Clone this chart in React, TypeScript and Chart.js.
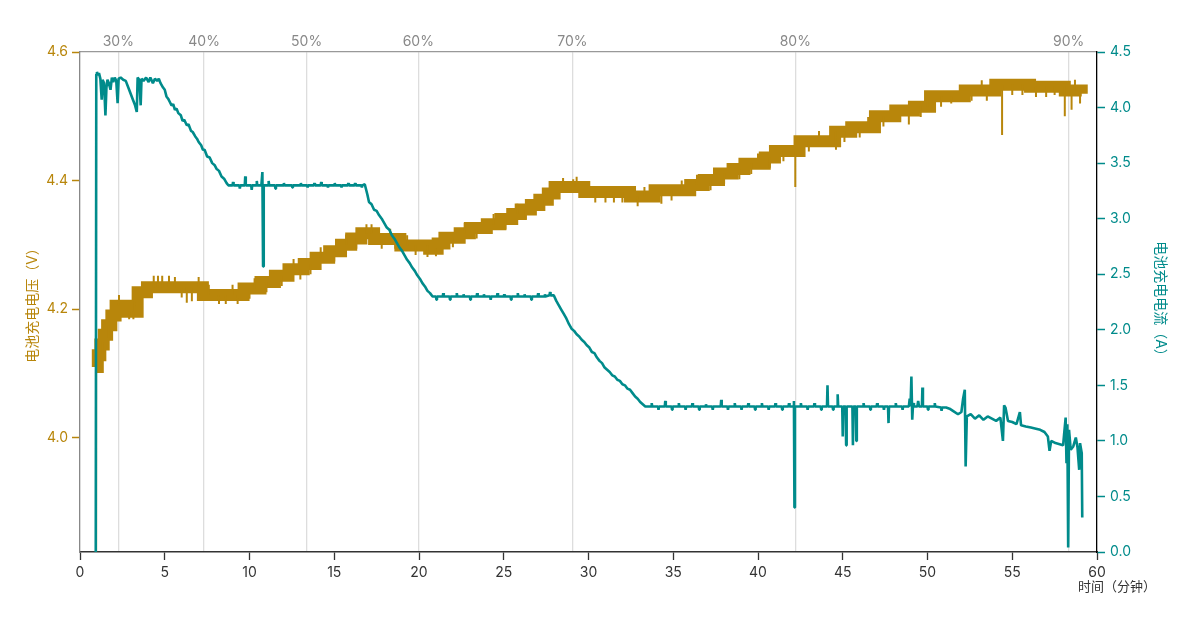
import React, { useEffect, useRef } from "react";
import { Chart, registerables } from "chart.js";

Chart.register(...registerables);

const GOLD = "#B8860B";
const TEAL = "#008B8B";
const FONT = "Inter, 'Noto Sans CJK SC', sans-serif";

const percentLabels = ["30%", "40%", "50%", "60%", "70%", "80%", "90%"];
const percentTimes = [2.26, 7.32, 13.37, 19.96, 29.05, 42.2, 58.33];

const voltTicks = [4.0, 4.2, 4.4, 4.6];

// Current (A): [time (min), current]
const currentSeries: [number, number][] = [
  [0.93, 0.0], [0.96, 4.3], [1.0, 4.32], [1.06, 4.29], [1.12, 4.31], [1.2, 4.26], [1.28, 4.07], [1.33, 4.25],
  [1.42, 4.22], [1.5, 3.93], [1.56, 4.18], [1.62, 4.25], [1.7, 4.22], [1.8, 4.16], [1.88, 4.27], [1.96, 4.23],
  [2.05, 4.27], [2.14, 4.24], [2.22, 4.04], [2.28, 4.26], [2.4, 4.27], [2.55, 4.25], [2.7, 4.24], [2.9, 4.16],
  [3.1, 4.08], [3.25, 4.02], [3.35, 3.96], [3.4, 4.27], [3.5, 4.25], [3.58, 4.02], [3.63, 4.26], [3.75, 4.24],
  [3.9, 4.27], [4.05, 4.23], [4.15, 4.27], [4.3, 4.22], [4.42, 4.26], [4.55, 4.24], [4.65, 4.26], [4.75, 4.22],
  [4.9, 4.18], [5.0, 4.16], [5.1, 4.1], [5.2, 4.08], [5.3, 4.05], [5.4, 4.02], [5.5, 4.03], [5.6, 3.98],
  [5.7, 3.99], [5.8, 3.95], [5.95, 3.93], [6.05, 3.88], [6.15, 3.89], [6.3, 3.84], [6.4, 3.85], [6.55, 3.79],
  [6.65, 3.78], [6.8, 3.74], [6.9, 3.72], [7.0, 3.69], [7.15, 3.66], [7.25, 3.62], [7.35, 3.62], [7.5, 3.56],
  [7.65, 3.55], [7.8, 3.5], [7.95, 3.48], [8.05, 3.45], [8.2, 3.43], [8.35, 3.38], [8.5, 3.36], [8.65, 3.32],
  [8.75, 3.3],
  [9.0, 3.3], [9.03, 3.33], [9.06, 3.3], [9.4, 3.3], [9.43, 3.27], [9.46, 3.3], [9.72, 3.3], [9.75, 3.38],
  [9.78, 3.3], [10.1, 3.3], [10.13, 3.26], [10.16, 3.3], [10.4, 3.3], [10.43, 3.34], [10.46, 3.3], [10.7, 3.3],
  [10.76, 3.42], [10.8, 2.57], [10.84, 3.3], [11.1, 3.3], [11.13, 3.34], [11.16, 3.3], [11.5, 3.3], [11.53, 3.27],
  [11.56, 3.3], [12.0, 3.3], [12.03, 3.32], [12.06, 3.3], [12.5, 3.3], [12.53, 3.28], [12.56, 3.3], [13.0, 3.3],
  [13.03, 3.32], [13.06, 3.3], [13.4, 3.3], [13.43, 3.28], [13.46, 3.3], [13.8, 3.3], [13.83, 3.32], [13.86, 3.3],
  [14.2, 3.3], [14.23, 3.33], [14.26, 3.3], [14.6, 3.3], [14.63, 3.28], [14.66, 3.3], [15.0, 3.3], [15.03, 3.32],
  [15.06, 3.3], [15.4, 3.3], [15.43, 3.28], [15.46, 3.3], [15.8, 3.3], [15.83, 3.32], [15.86, 3.3], [16.2, 3.3],
  [16.23, 3.32], [16.26, 3.3], [16.6, 3.3], [16.63, 3.28], [16.66, 3.3], [16.8, 3.31],
  [16.95, 3.22], [17.05, 3.15], [17.2, 3.13], [17.35, 3.08], [17.5, 3.07], [17.65, 3.03], [17.8, 3.0],
  [17.95, 2.96], [18.1, 2.92], [18.25, 2.9], [18.4, 2.85], [18.55, 2.82], [18.7, 2.78], [18.85, 2.74],
  [19.0, 2.71], [19.15, 2.67], [19.3, 2.63], [19.45, 2.6], [19.6, 2.56], [19.75, 2.53], [19.9, 2.49],
  [20.05, 2.46], [20.2, 2.42], [20.35, 2.39], [20.5, 2.35], [20.65, 2.33], [20.8, 2.3],
  [21.0, 2.3], [21.03, 2.27], [21.06, 2.3], [21.4, 2.3], [21.43, 2.33], [21.46, 2.3], [21.8, 2.3], [21.83, 2.27],
  [21.86, 2.3], [22.2, 2.3], [22.23, 2.33], [22.26, 2.3], [22.6, 2.3], [22.63, 2.32], [22.66, 2.3], [23.0, 2.3],
  [23.03, 2.27], [23.06, 2.3], [23.4, 2.3], [23.43, 2.33], [23.46, 2.3], [23.8, 2.3], [23.83, 2.32], [23.86, 2.3],
  [24.2, 2.3], [24.23, 2.27], [24.26, 2.3], [24.6, 2.3], [24.63, 2.33], [24.66, 2.3], [25.0, 2.3], [25.03, 2.32],
  [25.06, 2.3], [25.4, 2.3], [25.43, 2.27], [25.46, 2.3], [25.8, 2.3], [25.83, 2.33], [25.86, 2.3], [26.2, 2.3],
  [26.23, 2.32], [26.26, 2.3], [26.6, 2.3], [26.63, 2.27], [26.66, 2.3], [27.0, 2.3], [27.03, 2.33], [27.06, 2.3],
  [27.4, 2.3], [27.43, 2.32], [27.46, 2.3], [27.7, 2.31], [27.73, 2.34], [27.76, 2.31], [27.95, 2.31],
  [28.1, 2.26], [28.25, 2.22], [28.4, 2.18], [28.55, 2.14], [28.7, 2.1], [28.85, 2.05], [29.0, 2.01],
  [29.15, 1.99], [29.3, 1.96], [29.45, 1.94], [29.6, 1.91], [29.75, 1.89], [29.9, 1.86], [30.05, 1.84],
  [30.2, 1.8], [30.35, 1.79], [30.5, 1.75], [30.65, 1.72], [30.8, 1.7], [30.95, 1.66], [31.1, 1.64],
  [31.25, 1.62], [31.4, 1.59], [31.55, 1.58], [31.7, 1.55], [31.85, 1.54], [32.0, 1.51], [32.15, 1.5],
  [32.3, 1.47], [32.45, 1.46], [32.6, 1.43], [32.75, 1.4], [32.9, 1.38], [33.05, 1.35], [33.2, 1.33], [33.35, 1.31],
  [33.7, 1.31], [33.73, 1.34], [33.76, 1.31], [34.1, 1.31], [34.13, 1.28], [34.16, 1.31], [34.5, 1.31],
  [34.53, 1.36], [34.56, 1.31], [34.9, 1.31], [34.93, 1.28], [34.96, 1.31], [35.3, 1.31], [35.33, 1.34],
  [35.36, 1.31], [35.7, 1.31], [35.73, 1.28], [35.76, 1.31], [36.1, 1.31], [36.13, 1.34], [36.16, 1.31],
  [36.5, 1.31], [36.53, 1.28], [36.56, 1.31], [36.9, 1.31], [36.93, 1.33], [36.96, 1.31], [37.3, 1.31],
  [37.33, 1.28], [37.36, 1.31], [37.8, 1.31], [37.83, 1.37], [37.86, 1.31], [38.2, 1.31], [38.23, 1.28],
  [38.26, 1.31], [38.6, 1.31], [38.63, 1.34], [38.66, 1.31], [39.0, 1.31], [39.03, 1.28], [39.06, 1.31],
  [39.4, 1.31], [39.43, 1.34], [39.46, 1.31], [39.8, 1.31], [39.83, 1.28], [39.86, 1.31], [40.2, 1.31],
  [40.23, 1.34], [40.26, 1.31], [40.6, 1.31], [40.63, 1.28], [40.66, 1.31], [41.0, 1.31], [41.03, 1.34],
  [41.06, 1.31], [41.4, 1.31], [41.43, 1.28], [41.46, 1.31], [41.8, 1.31], [41.83, 1.34], [41.86, 1.31],
  [42.1, 1.31], [42.12, 1.36], [42.15, 0.4], [42.18, 1.31], [42.5, 1.31], [42.53, 1.34], [42.56, 1.31],
  [42.9, 1.31], [42.93, 1.28], [42.96, 1.31], [43.3, 1.31], [43.33, 1.34], [43.36, 1.31], [43.7, 1.31],
  [43.73, 1.28], [43.76, 1.31], [44.07, 1.31], [44.1, 1.5], [44.13, 1.31], [44.4, 1.31], [44.43, 1.28],
  [44.46, 1.31], [44.67, 1.31], [44.7, 1.42], [44.73, 1.31], [44.97, 1.31], [45.0, 1.04], [45.03, 1.31],
  [45.17, 1.31], [45.2, 0.96], [45.23, 1.31], [45.57, 1.31], [45.6, 0.96], [45.63, 1.31], [45.77, 1.31],
  [45.8, 1.0], [45.83, 1.31], [46.2, 1.31], [46.23, 1.34], [46.26, 1.31], [46.6, 1.31], [46.63, 1.28],
  [46.66, 1.31], [47.0, 1.31], [47.03, 1.34], [47.06, 1.31], [47.4, 1.31], [47.43, 1.28], [47.46, 1.31],
  [47.67, 1.31], [47.7, 1.16], [47.73, 1.31], [48.1, 1.31], [48.13, 1.34], [48.16, 1.31], [48.5, 1.31],
  [48.53, 1.28], [48.56, 1.31], [48.9, 1.31], [48.95, 1.38], [49.0, 1.31], [49.05, 1.58], [49.1, 1.19],
  [49.15, 1.34], [49.2, 1.31], [49.4, 1.31], [49.45, 1.36], [49.5, 1.31], [49.67, 1.31], [49.7, 1.48],
  [49.73, 1.31], [50.0, 1.31], [50.03, 1.28], [50.06, 1.31], [50.4, 1.31], [50.43, 1.34], [50.46, 1.31],
  [50.8, 1.3], [50.83, 1.27], [50.86, 1.3], [51.1, 1.3],
  [51.3, 1.29], [51.5, 1.27], [51.8, 1.24], [52.0, 1.26], [52.1, 1.38], [52.2, 1.46], [52.25, 0.77], [52.32, 1.22],
  [52.55, 1.24], [52.8, 1.2], [53.05, 1.23], [53.3, 1.19], [53.55, 1.22], [53.8, 1.2], [54.05, 1.18], [54.3, 1.21],
  [54.45, 1.0], [54.52, 1.32], [54.6, 1.3], [54.75, 1.18], [55.0, 1.17], [55.25, 1.15], [55.45, 1.26], [55.52, 1.14],
  [55.8, 1.13], [56.1, 1.12], [56.4, 1.11], [56.65, 1.1], [56.9, 1.08], [57.1, 1.04], [57.2, 0.91], [57.3, 1.0],
  [57.55, 0.98], [57.8, 0.97], [58.0, 0.96], [58.15, 1.21], [58.2, 0.8], [58.25, 1.15], [58.3, 0.04], [58.35, 1.1],
  [58.45, 0.92], [58.6, 0.95], [58.75, 1.03], [58.85, 0.94], [58.95, 0.74], [59.0, 0.98], [59.1, 0.89], [59.13, 0.31],
];

// Voltage (V), level starts of the quantised band
const voltageTime = [
  0.98, 1.05, 1.2, 1.4, 1.6, 1.85, 2.1, 2.7, 3.4, 3.95, 7.25, 9.65, 10.65, 11.5, 12.3, 13.2, 13.9, 14.7, 15.4,
  16.0, 16.6, 17.35, 18.9, 20.6, 21.1, 21.5, 22.4, 23.0, 24.0, 24.8, 25.5, 26.0, 26.6, 27.1, 27.6, 28.0, 29.75,
  32.45, 33.9, 36.0, 36.8, 37.7, 38.5, 39.2, 40.4, 41.0, 42.45, 44.55, 45.5, 46.9, 48.1, 49.2, 50.15, 52.2,
  54.0, 56.05, 58.1, 59.1,
];
const voltageValue = [
  4.11, 4.128, 4.145, 4.16, 4.175, 4.19, 4.205, 4.196, 4.226, 4.234, 4.222, 4.232, 4.242, 4.252, 4.262, 4.27,
  4.28, 4.29, 4.3, 4.31, 4.318, 4.309, 4.299, 4.294, 4.302, 4.311, 4.318, 4.326, 4.332, 4.34, 4.348, 4.355,
  4.362, 4.37, 4.38, 4.39, 4.382, 4.375, 4.385, 4.393, 4.401, 4.411, 4.418, 4.426, 4.436, 4.446, 4.461,
  4.476, 4.483, 4.5, 4.509, 4.515, 4.531, 4.54, 4.549, 4.546, 4.54, 4.535,
];

// thin voltage spikes: time, band level, spike tip
const spikeTime = [
  0.95, 1.3, 1.7, 2.3, 2.9, 3.15, 3.2, 4.35, 4.6, 4.85, 5.25, 5.6, 6.0, 6.3, 6.6, 7.0, 7.6, 8.2, 8.6, 9.0, 9.3,
  10.0, 10.3, 11.0, 11.9, 12.6, 13.0, 13.6, 14.2, 15.0, 15.7, 16.3, 16.9, 17.2, 17.8, 18.3, 18.6, 19.3, 19.8,
  20.5, 21.0, 22.0, 22.7, 23.4, 24.4, 25.1, 25.8, 26.3, 27.3, 28.5, 29.1, 29.3, 30.4, 31.0, 31.5, 32.0, 32.9,
  33.3, 34.3, 34.9, 35.5, 36.4, 37.2, 38.0, 38.9, 39.6, 40.0, 40.7, 41.5, 42.2, 43.0, 43.6, 44.6, 45.1, 46.0,
  46.5, 47.4, 48.9, 49.6, 50.0, 50.8, 51.4, 52.6, 53.2, 53.5, 54.4, 55.0, 55.6, 56.4, 57.0, 57.5, 58.1, 58.5,
  58.7, 59.0,
];
const spikeBase = [
  3.822, 4.15, 4.175, 4.205, 4.196, 4.196, 4.196, 4.234, 4.234, 4.234, 4.234, 4.234, 4.234, 4.234, 4.234, 4.234,
  4.222, 4.222, 4.222, 4.222, 4.222, 4.232, 4.232, 4.242, 4.252, 4.262, 4.262, 4.27, 4.28, 4.29, 4.3, 4.31,
  4.318, 4.318, 4.309, 4.309, 4.309, 4.299, 4.299, 4.299, 4.294, 4.311, 4.318, 4.326, 4.332, 4.34, 4.348,
  4.355, 4.37, 4.39, 4.39, 4.39, 4.382, 4.382, 4.382, 4.382, 4.375, 4.375, 4.385, 4.385, 4.385, 4.393, 4.401,
  4.411, 4.418, 4.426, 4.426, 4.436, 4.446, 4.446, 4.461, 4.461, 4.476, 4.476, 4.483, 4.483, 4.5, 4.509,
  4.515, 4.515, 4.531, 4.531, 4.54, 4.54, 4.54, 4.549, 4.549, 4.549, 4.546, 4.546, 4.546, 4.546, 4.54, 4.54,
  4.54,
];
const spikeTip = [
  4.11, 4.13, 4.155, 4.222, 4.184, 4.184, 4.212, 4.252, 4.252, 4.252, 4.252, 4.25, 4.218, 4.21, 4.212, 4.25,
  4.238, 4.208, 4.208, 4.238, 4.208, 4.216, 4.248, 4.226, 4.236, 4.278, 4.246, 4.254, 4.296, 4.274, 4.316, 4.294,
  4.332, 4.332, 4.294, 4.325, 4.294, 4.315, 4.284, 4.281, 4.282, 4.296, 4.334, 4.31, 4.348, 4.324, 4.364,
  4.339, 4.354, 4.404, 4.402, 4.406, 4.366, 4.366, 4.366, 4.366, 4.36, 4.39, 4.364, 4.369, 4.4, 4.409,
  4.385, 4.395, 4.402, 4.41, 4.442, 4.42, 4.43, 4.39, 4.445, 4.477, 4.448, 4.46, 4.467, 4.499, 4.484,
  4.487, 4.499, 4.527, 4.515, 4.52, 4.524, 4.556, 4.524, 4.471, 4.533, 4.533, 4.53, 4.53, 4.533, 4.5,
  4.51, 4.557, 4.52,
];

const xTitlePlugin = {
  id: "xTitle",
  afterDraw(chart: any) {
    const { ctx, chartArea } = chart;
    ctx.save();
    ctx.font = `13px ${FONT}`;
    ctx.fillStyle = "#333";
    ctx.textAlign = "center";
    ctx.textBaseline = "middle";
    ctx.fillText("时间（分钟）", chartArea.right + 20, chartArea.bottom + 35);
    ctx.restore();
  },
};

export default function App() {
  const ref = useRef<HTMLCanvasElement | null>(null);

  useEffect(() => {
    if (!ref.current) return;
    const currentData = currentSeries.map(([t, v]) => ({ x: t, y: v }));
    const voltageData = voltageTime.map((t, i) => ({ x: t, y: voltageValue[i] }));
    const spikeData: any[] = [];
    spikeTime.forEach((t, i) => {
      spikeData.push({ x: t, y: spikeBase[i] });
      spikeData.push({ x: t, y: spikeTip[i] });
      spikeData.push({ x: t, y: null });
    });

    const chart = new Chart(ref.current, {
      type: "line",
      data: {
        datasets: [
          {
            label: "电流",
            data: currentData,
            yAxisID: "y1",
            xAxisID: "x",
            borderColor: TEAL,
            borderWidth: 2.6,
            borderJoinStyle: "bevel",
            pointRadius: 0,
            tension: 0,
            order: 0,
          },
          {
            label: "电压",
            data: voltageData,
            yAxisID: "y",
            xAxisID: "x",
            borderColor: GOLD,
            borderWidth: 12,
            stepped: true,
            borderJoinStyle: "miter",
            borderCapStyle: "butt",
            pointRadius: 0,
            order: 2,
          },
          {
            label: "电压尖峰",
            data: spikeData,
            yAxisID: "y",
            xAxisID: "x",
            borderColor: GOLD,
            borderWidth: 2,
            pointRadius: 0,
            spanGaps: false,
            order: 1,
          },
        ],
      },
      options: {
        responsive: false,
        animation: false,
        events: [],
        layout: { padding: 0 },
        plugins: { legend: { display: false }, tooltip: { enabled: false } },
        scales: {
          x: {
            type: "linear",
            position: "bottom",
            min: 0,
            max: 60,
            ticks: { stepSize: 5, color: "#333", font: { size: 14, family: FONT }, padding: 4, maxRotation: 0 },
            grid: { drawOnChartArea: false, color: "#333", tickLength: 8, tickWidth: 1.3 },
            border: { color: "#333", width: 1.5 },
            afterFit: (s: any) => {
              s.height = 67;
            },
          },
          x2: {
            type: "linear",
            position: "top",
            min: 0,
            max: 60,
            afterBuildTicks: (s: any) => {
              s.ticks = percentTimes.map((v) => ({ value: v }));
            },
            ticks: {
              autoSkip: false,
              maxRotation: 0,
              color: "#888",
              font: { size: 14, family: FONT },
              padding: 2,
              callback: (_v: any, i: number) => percentLabels[i],
            },
            grid: { drawOnChartArea: true, drawTicks: false, color: "#dddddd", lineWidth: 1.3 },
            border: { color: "#999", width: 1.2 },
            afterFit: (s: any) => {
              s.height = 52;
            },
          },
          y: {
            type: "linear",
            position: "left",
            min: 3.822,
            max: 4.6,
            afterBuildTicks: (s: any) => {
              s.ticks = voltTicks.map((v) => ({ value: v }));
            },
            ticks: {
              color: GOLD,
              font: { size: 14, family: FONT },
              padding: 4,
              callback: (v: any) => Number(v).toFixed(1),
            },
            grid: { drawOnChartArea: false, color: GOLD, tickLength: 8, tickWidth: 1.5 },
            border: { color: "#888", width: 1.3 },
            title: {
              display: true,
              text: "电池充电电压（V）",
              color: GOLD,
              font: { size: 14, family: FONT },
              padding: { top: 24, bottom: 0 },
            },
            afterFit: (s: any) => {
              s.width = 80;
            },
          },
          y1: {
            type: "linear",
            position: "right",
            min: 0,
            max: 4.5,
            ticks: {
              stepSize: 0.5,
              color: TEAL,
              font: { size: 14, family: FONT },
              padding: 5,
              callback: (v: any) => Number(v).toFixed(1),
            },
            grid: { drawOnChartArea: false, color: TEAL, tickLength: 8, tickWidth: 1.5 },
            border: { color: "#000", width: 1.3 },
            title: {
              display: true,
              text: "电池充电电流（A）",
              color: TEAL,
              font: { size: 14, family: FONT },
              padding: { top: 23, bottom: 0 },
            },
            afterFit: (s: any) => {
              s.width = 95;
            },
          },
        },
      },
      plugins: [xTitlePlugin],
    });
    return () => chart.destroy();
  }, []);

  return (
    <div style={{ position: "fixed", left: 0, top: 0, width: 1192, height: 619, background: "#fff" }}>
      <canvas ref={ref} width={1192} height={619} style={{ display: "block", width: 1192, height: 619 }} />
    </div>
  );
}
